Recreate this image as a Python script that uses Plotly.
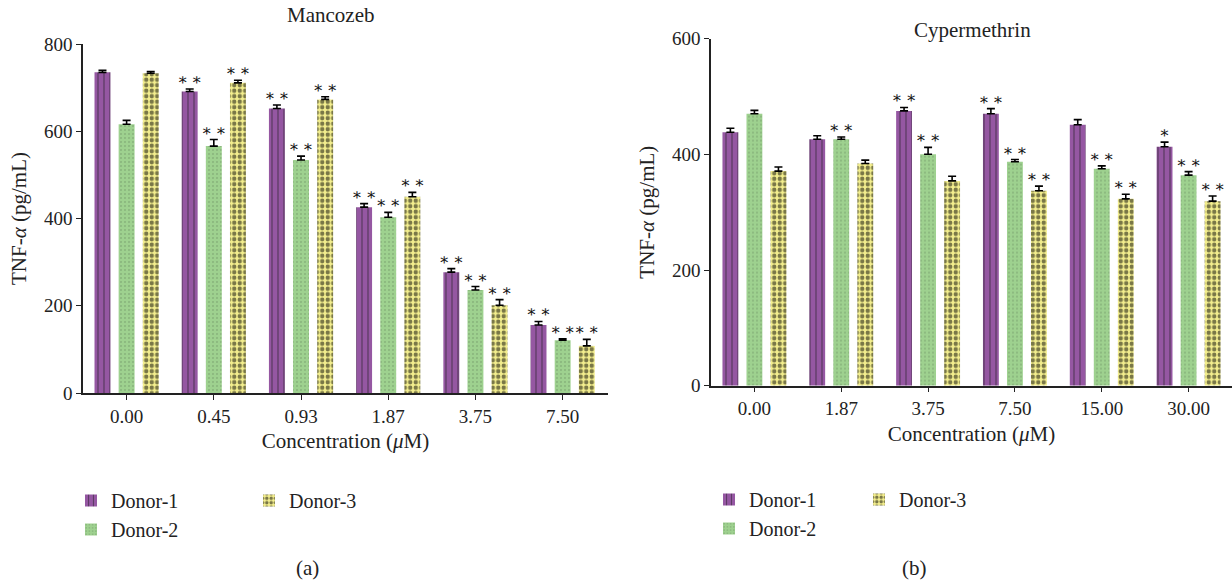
import plotly.graph_objects as go

# ---------------- data ----------------
donors = ["Donor-1", "Donor-2", "Donor-3"]

manc_conc = ["0.00", "0.45", "0.93", "1.87", "3.75", "7.50"]
manc_d1 = [735, 691, 652, 426, 277, 156]
manc_d2 = [616, 566, 534, 403, 236, 121]
manc_d3 = [733, 711, 673, 450, 201, 108]
manc_e1 = [5, 6, 8, 8, 8, 8]
manc_e2 = [9, 15, 9, 11, 8, 3]
manc_e3 = [4, 6, 6, 10, 13, 15]
manc_s1 = ["", "**", "**", "**", "**", "**"]
manc_s2 = ["", "**", "**", "**", "**", "**"]
manc_s3 = ["", "**", "**", "**", "**", "**"]

cyp_conc = ["0.00", "1.87", "3.75", "7.50", "15.00", "30.00"]
cyp_d1 = [438, 426, 475, 470, 451, 413]
cyp_d2 = [470, 426, 400, 387, 375, 364]
cyp_d3 = [371, 384, 354, 337, 323, 319]
cyp_e1 = [7, 6, 6, 9, 9, 8]
cyp_e2 = [6, 4, 12, 4, 5, 6]
cyp_e3 = [7, 6, 8, 8, 8, 9]
cyp_s1 = ["", "", "**", "**", "", "*"]
cyp_s2 = ["", "**", "**", "**", "**", "**"]
cyp_s3 = ["", "", "", "**", "**", "**"]

# ---------------- style ----------------
FONT = "Liberation Serif"
STAR_FONT = "DejaVu Serif"
BARGAP = 0.17
GROUPGAP = 0.34
styles = [
    dict(color="#9557A2", pattern=dict(shape="|", fgcolor="#1a1a1a", bgcolor="#9557A2",
                                        size=6, solidity=0.2, fillmode="overlay")),
    dict(color="#9ED18F", pattern=dict(shape=".", fgcolor="#3a4a3a", bgcolor="#9ED18F",
                                        size=4, solidity=0.08, fillmode="overlay")),
    dict(color="#F3EE8E", pattern=dict(shape=".", fgcolor="#000000", bgcolor="#F3EE8E",
                                        size=5.5, solidity=0.5, fillmode="overlay")),
]

fig = go.Figure()

panels = [
    dict(conc=manc_conc, vals=[manc_d1, manc_d2, manc_d3], errs=[manc_e1, manc_e2, manc_e3],
         stars=[manc_s1, manc_s2, manc_s3], xa="x", ya="y", legs=["legend", "legend", "legend2"]),
    dict(conc=cyp_conc, vals=[cyp_d1, cyp_d2, cyp_d3], errs=[cyp_e1, cyp_e2, cyp_e3],
         stars=[cyp_s1, cyp_s2, cyp_s3], xa="x2", ya="y2", legs=["legend3", "legend3", "legend4"]),
]

slot = (1 - BARGAP) / 3
for p in panels:
    idx = list(range(len(p["conc"])))
    for j, name in enumerate(donors):
        fig.add_trace(go.Bar(
            x=idx, y=p["vals"][j], name=name,
            xaxis=p["xa"], yaxis=p["ya"], legend=p["legs"][j],
            marker=dict(color=styles[j]["color"], pattern=styles[j]["pattern"], line=dict(width=0)),
            error_y=dict(type="data", symmetric=False, array=p["errs"][j],
                         arrayminus=[0] * len(idx), color="#000000", thickness=1.6, width=4),
        ))
    for j in range(3):
        xs = [i + (j - 1) * slot for i in idx]
        ys = [v + e for v, e in zip(p["vals"][j], p["errs"][j])]
        txt = [s.replace("*", "∗\u2009").strip() for s in p["stars"][j]]
        fig.add_trace(go.Scatter(
            x=xs, y=ys, text=txt, mode="text", textposition="top center",
            textfont=dict(family=STAR_FONT, size=16, color="#111111"),
            xaxis=p["xa"], yaxis=p["ya"], showlegend=False, cliponaxis=False, hoverinfo="skip",
        ))

axis_common = dict(showline=True, linecolor="#222", linewidth=1.5, ticks="outside",
                   ticklen=5, tickwidth=1.3, tickcolor="#222", showgrid=False, zeroline=False,
                   automargin=False,
                   tickfont=dict(family=FONT, size=19, color="#222"))

fig.update_layout(
    width=1232, height=582,
    margin=dict(l=0, r=0, t=0, b=0),
    paper_bgcolor="white", plot_bgcolor="white",
    barmode="group", bargap=BARGAP, bargroupgap=GROUPGAP,
    font=dict(family=FONT, size=19, color="#222"),
    xaxis=dict(domain=[83 / 1232, 608 / 1232], range=[-0.5, 5.52], tickvals=list(range(6)),
               ticktext=manc_conc, anchor="y",
               title=dict(text="Concentration (<i>μ</i>M)", standoff=8,
                          font=dict(family=FONT, size=21)), **axis_common),
    yaxis=dict(domain=[(582 - 393) / 582, (582 - 44) / 582], range=[0, 800], dtick=200,
               anchor="x",
               title=dict(text="TNF-<i>α</i> (pg/mL)", standoff=12,
                          font=dict(family=FONT, size=21)), **axis_common),
    xaxis2=dict(domain=[711 / 1232, 1.0], range=[-0.5, 5.5], tickvals=list(range(6)),
                ticktext=cyp_conc, anchor="y2",
                title=dict(text="Concentration (<i>μ</i>M)", standoff=8,
                           font=dict(family=FONT, size=21)), **axis_common),
    yaxis2=dict(domain=[(582 - 385.7) / 582, (582 - 38.6) / 582], range=[0, 600], dtick=200,
                anchor="x2",
                title=dict(text="TNF-<i>α</i> (pg/mL)", standoff=12,
                           font=dict(family=FONT, size=21)), **axis_common),
)

leg_font = dict(family=FONT, size=20, color="#222")
leg_common = dict(orientation="v", xanchor="left", yanchor="top", bgcolor="rgba(0,0,0,0)",
                  tracegroupgap=0)
fig.update_layout(
    legend=dict(x=71 / 1232, y=(582 - 481) / 582, font=leg_font, **leg_common),
    legend2=dict(x=249 / 1232, y=(582 - 481) / 582, font=leg_font, **leg_common),
    legend3=dict(x=709 / 1232, y=(582 - 480) / 582, font=leg_font, **leg_common),
    legend4=dict(x=859 / 1232, y=(582 - 480) / 582, font=leg_font, **leg_common),
)

ann = dict(xref="paper", yref="paper", showarrow=False, font=dict(family=FONT, size=21, color="#222"))
fig.add_annotation(text="Mancozeb", x=330 / 1232, y=(582 - 15) / 582, xanchor="center", yanchor="middle", **ann)
fig.add_annotation(text="Cypermethrin", x=972 / 1232, y=(582 - 30) / 582, xanchor="center", yanchor="middle", **ann)
fig.add_annotation(text="(a)", x=307 / 1232, y=(582 - 568) / 582, xanchor="center", yanchor="middle", **ann)
fig.add_annotation(text="(b)", x=914 / 1232, y=(582 - 568) / 582, xanchor="center", yanchor="middle", **ann)

fig.write_html("out.html", config={"displayModeBar": False},
               post_script="document.body.style.margin='0';document.body.style.overflow='hidden';")
